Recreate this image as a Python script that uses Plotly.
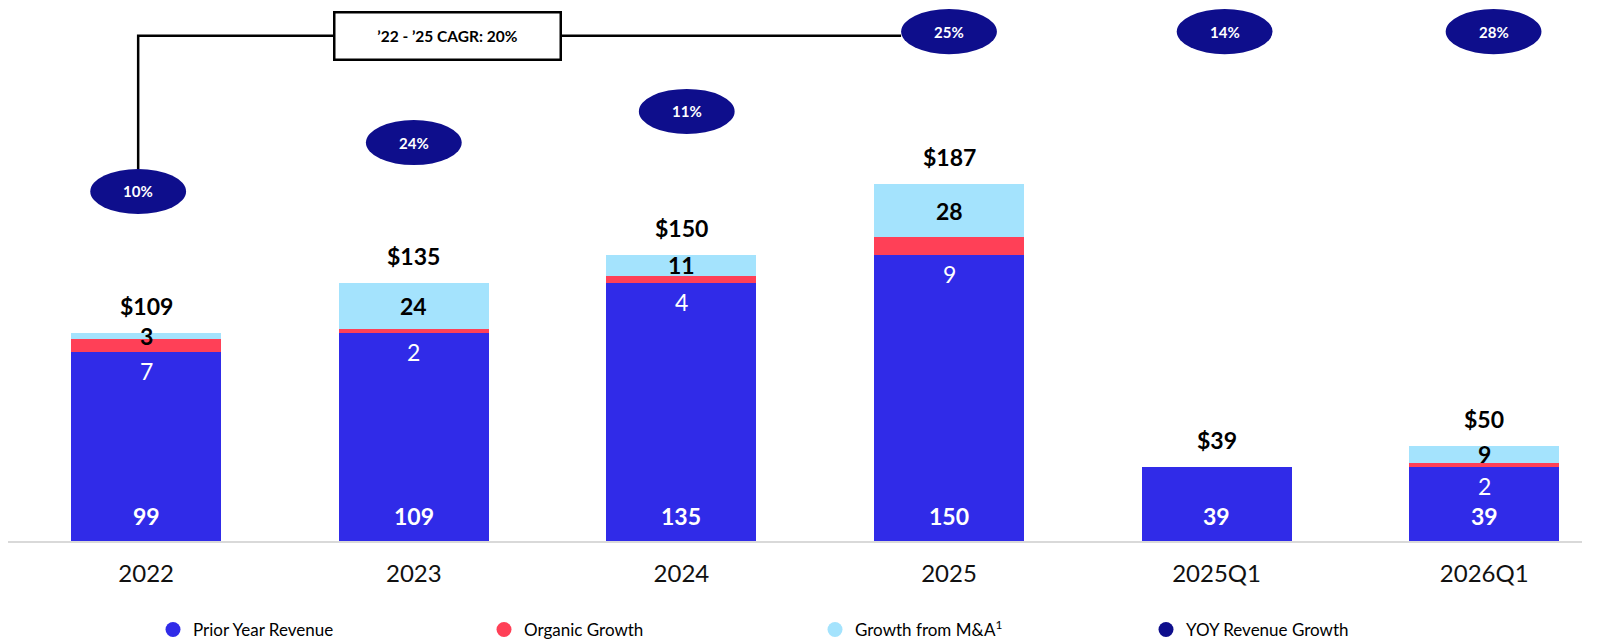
import plotly.graph_objects as go

# ---------------- data ----------------
categories = ["2022", "2023", "2024", "2025", "2025Q1", "2026Q1"]
prior_year = [99, 109, 135, 150, 39, 39]
organic = [7, 2, 4, 9, 0, 2]
mna = [3, 24, 11, 28, 0, 9]
totals = [109, 135, 150, 187, 39, 50]
yoy_growth = ["10%", "24%", "11%", "25%", "14%", "28%"]
cagr_label = "’22 - ’25 CAGR: 20%"
series_names = ["Prior Year Revenue", "Organic Growth", "Growth from M&amp;A<sup>1</sup>", "YOY Revenue Growth"]

# ---------------- layout / style ----------------
C_BLUE = "#302BE8"
C_RED = "#FF4057"
C_LIGHT = "#A4E3FD"
C_NAVY = "#0E0E8C"
FONT = "Lato"
YOY_Y = [183, 208.6, 224.9, 266.7, 266.7, 266.7]   # bubble centre heights (axis units)
BUBBLE_OFF = [-0.03, 0.0, 0.02, 0.0, 0.03, 0.035]  # small horizontal nudges (category units)
BUBBLE_HW = 0.179   # half width in category units
BUBBLE_HH = 11.8    # half height in axis units
CAGR_LINE_Y = 264.5
CAGR_BOX_X = 1.127
PAGE_OFF = 8                      # default page body margin
W, H = 1597 - PAGE_OFF, 639 - PAGE_OFF
BASE = 541 - PAGE_OFF             # baseline pixel within figure
ML, MR, MT, MB = 0, 15, 0, H - BASE
STEP = 267.6
X0 = -(146.2 - PAGE_OFF) / STEP
X1 = X0 + (W - ML - MR) / STEP
YMAX = (BASE - MT) / 1.91

xs = list(range(len(categories)))

fig = go.Figure()
for vals, col in [(prior_year, C_BLUE), (organic, C_RED), (mna, C_LIGHT)]:
    fig.add_trace(go.Bar(x=xs, y=vals, marker=dict(color=col, line=dict(width=0)),
                         width=0.56, showlegend=False, hoverinfo="skip"))

# legend-only entries (round symbols)
for name, col in zip(series_names, [C_BLUE, C_RED, C_LIGHT, C_NAVY]):
    fig.add_trace(go.Scatter(x=[None], y=[None], mode="markers", name=name,
                             marker=dict(color=col, size=15, symbol="circle")))

ann = []
shapes = []
for i in xs:
    ann.append(dict(x=i, y=0, text=f"<b>{prior_year[i]}</b>", showarrow=False,
                    yanchor="bottom", yshift=9, font=dict(family=FONT, size=23, color="white")))
    if organic[i]:
        ann.append(dict(x=i, y=prior_year[i], text=str(organic[i]), showarrow=False,
                        yanchor="top", yshift=-3, font=dict(family=FONT, size=23, color="white")))
    if mna[i]:
        ann.append(dict(x=i, y=prior_year[i] + organic[i] + mna[i] / 2, text=f"<b>{mna[i]}</b>",
                        showarrow=False, yanchor="middle", font=dict(family=FONT, size=23, color="black")))
    ann.append(dict(x=i, y=totals[i], text=f"<b>${totals[i]}</b>", showarrow=False,
                    yanchor="bottom", yshift=11, font=dict(family=FONT, size=23, color="black")))
    bx = i + BUBBLE_OFF[i]
    shapes.append(dict(type="circle", xref="x", yref="y",
                       x0=bx - BUBBLE_HW, x1=bx + BUBBLE_HW,
                       y0=YOY_Y[i] - BUBBLE_HH, y1=YOY_Y[i] + BUBBLE_HH,
                       fillcolor=C_NAVY, line=dict(width=0), layer="above"))
    ann.append(dict(x=bx, y=YOY_Y[i], text=f"<b>{yoy_growth[i]}</b>", showarrow=False,
                    font=dict(family=FONT, size=15, color="white")))

# CAGR connector
x_start = BUBBLE_OFF[0]
x_end = 3 + BUBBLE_OFF[3] - BUBBLE_HW
shapes.insert(0, dict(type="path", xref="x", yref="y",
                      path=f"M {x_start},{YOY_Y[0] + BUBBLE_HH} L {x_start},{CAGR_LINE_Y} L {x_end},{CAGR_LINE_Y}",
                      line=dict(color="black", width=2.5), layer="above"))
ann.append(dict(x=CAGR_BOX_X, y=CAGR_LINE_Y, text=f"<b>{cagr_label}</b>", showarrow=False,
                bgcolor="white", bordercolor="black", borderwidth=2.5, width=222, height=43,
                font=dict(family=FONT, size=15.5, color="black")))

fig.update_layout(
    width=W, height=H, barmode="stack", bargap=0.44,
    margin=dict(l=ML, r=MR, t=MT, b=MB, autoexpand=False),
    plot_bgcolor="white", paper_bgcolor="white",
    font=dict(family=FONT),
    xaxis=dict(tickmode="array", tickvals=xs, ticktext=categories, range=[X0, X1],
               showgrid=False, zeroline=False, showline=True, linecolor="#D9D9D9", linewidth=2,
               ticks="", ticklabelstandoff=10, automargin=False,
               tickfont=dict(family=FONT, size=24, color="#111111")),
    yaxis=dict(range=[0, YMAX], visible=False, automargin=False),
    shapes=shapes, annotations=ann,
    legend=dict(orientation="h", x=(165 - 20 - PAGE_OFF + 8) / (W - ML - MR), xanchor="left",
                y=-(630 - 541) / (BASE - MT), yanchor="middle", traceorder="normal",
                entrywidth=286, entrywidthmode="pixels",
                font=dict(family=FONT, size=17, color="black"), itemsizing="trace"),
)

fig.write_html("out.html")
